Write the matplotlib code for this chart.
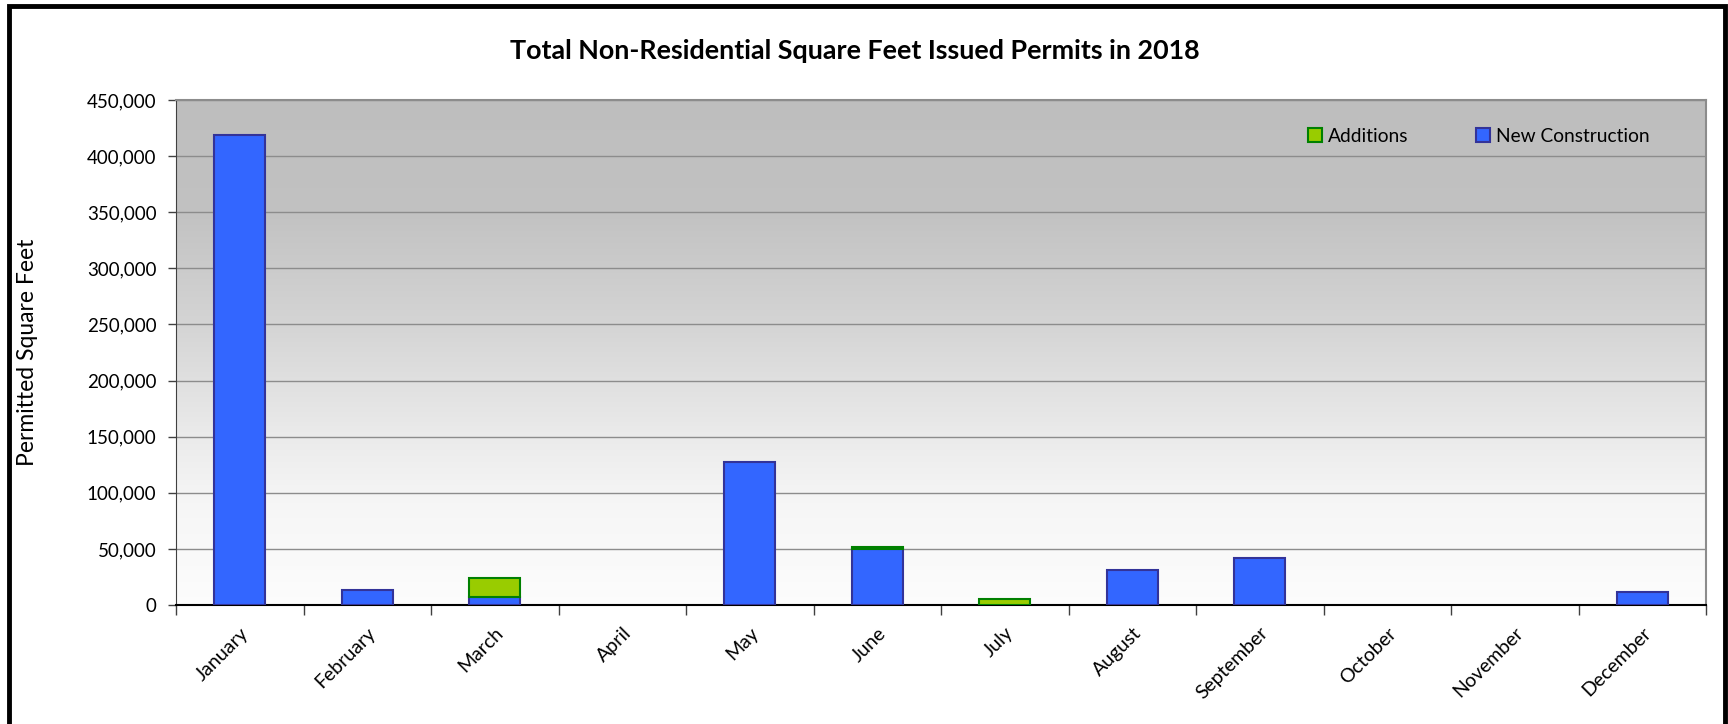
import matplotlib
matplotlib.use("Agg")
import matplotlib.pyplot as plt
import numpy as np
from matplotlib.patches import Rectangle, Patch
from matplotlib.ticker import FuncFormatter, MultipleLocator, FixedLocator

months = ["January", "February", "March", "April", "May", "June", "July",
          "August", "September", "October", "November", "December"]
new_construction = [419000, 13000, 7000, 0, 127000, 49500, 0, 31000, 41700, 0, 0, 12000]
additions = [0, 0, 17500, 0, 0, 2000, 5500, 0, 0, 0, 0, 0]

plt.rcParams['font.family'] = ['Lato', 'DejaVu Sans']

W, H = 1728, 724
fig = plt.figure(figsize=(W / 100, H / 100), dpi=100)
L, R, T, B = 176, 1706, 100, 605
ax = fig.add_axes([L / W, 1 - B / H, (R - L) / W, (B - T) / H])

n = len(months)
x = np.arange(n)
ax.set_xlim(-0.5, n - 0.5)

# gradient background: gray at top fading to white at bottom
t = np.linspace(0, 1, 512)
g = np.interp(t, [0.0, 0.22, 0.45, 0.65, 0.8, 1.0],
              [0.745, 0.76, 0.835, 0.915, 0.965, 0.99])
img = np.repeat(g[:, None, None], 3, axis=2)
ax.imshow(img, aspect='auto', extent=[-0.5, n - 0.5, 0, 450000], origin='upper',
          zorder=0, interpolation='bilinear')
ax.set_ylim(0, 450000)

ax.yaxis.set_major_locator(MultipleLocator(50000))
ax.grid(axis='y', color='#8c8c8c', linewidth=1.0, zorder=1)
ax.set_axisbelow(True)

nc = np.array(new_construction, dtype=float)
ad = np.array(additions, dtype=float)
w = 0.4
m1 = nc > 0
ax.bar(x[m1], nc[m1], width=w, color='#3366FF', edgecolor='#333399',
       linewidth=1.5, zorder=3)
m2 = ad > 0
ax.bar(x[m2], ad[m2], width=w, bottom=nc[m2], color='#99CC00',
       edgecolor='#008000', linewidth=1.5, zorder=3)

ax.yaxis.set_major_formatter(FuncFormatter(lambda v, p: f"{int(v):,}"))
ax.tick_params(axis='y', labelsize=13.5, length=6, width=1, color='#404040', pad=8)

ax.xaxis.set_major_locator(FixedLocator(np.arange(-0.5, n, 1.0)))
ax.xaxis.set_minor_locator(FixedLocator(x))
ax.set_xticklabels([])
ax.set_xticklabels(months, minor=True, rotation=45, ha='right',
                   rotation_mode='anchor', fontsize=14)
ax.tick_params(axis='x', which='major', length=7, width=1, color='#404040')
ax.tick_params(axis='x', which='minor', length=0, pad=14)

for s in ['top', 'right']:
    ax.spines[s].set_color('#8c8c8c')
    ax.spines[s].set_linewidth(1.5)
ax.spines['left'].set_color('#404040')
ax.spines['bottom'].set_color('#000000')
ax.spines['bottom'].set_linewidth(1.5)

ax.set_ylabel("Permitted Square Feet", fontsize=16.5)
ax.yaxis.set_label_coords((38 - L) / (R - L), 0.5)

fig.text(855 / W, 1 - 51 / H, "Total Non-Residential Square Feet Issued Permits in 2018",
         ha='center', va='center', fontsize=19.4, fontweight='bold')

handles = [Patch(facecolor='#99CC00', edgecolor='#008000', linewidth=1.5),
           Patch(facecolor='#3366FF', edgecolor='#333399', linewidth=1.5)]
fig.legend(handles, ['Additions', 'New Construction'], ncol=2, frameon=False,
           loc='center left', bbox_to_anchor=(1308 / W, 1 - 136 / H),
           fontsize=13.8, handlelength=0.75, handleheight=0.75, handletextpad=0.3,
           columnspacing=3.5, borderaxespad=0, borderpad=0)

border = Rectangle((9 / W, -0.05), (1725 - 9) / W, 1.05 - 6 / H,
                   transform=fig.transFigure, fill=False, edgecolor='black',
                   linewidth=3.5, clip_on=False)
fig.patches.append(border)

fig.savefig("out.png", dpi=100)
